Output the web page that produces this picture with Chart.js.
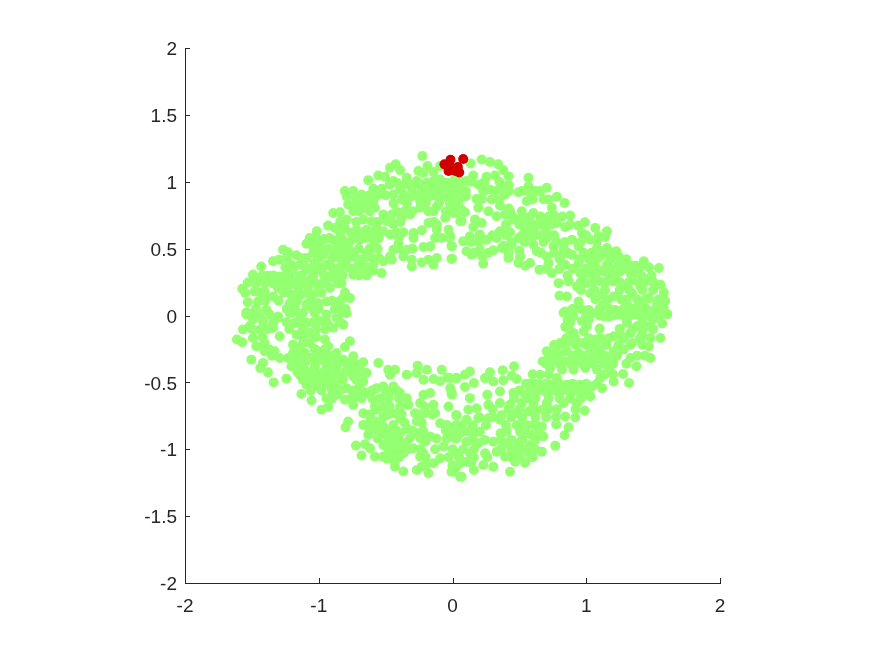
<!DOCTYPE html>
<html>
<head>
<meta charset="utf-8">
<title>scatter</title>
<script src="https://cdn.jsdelivr.net/npm/chart.js@4"></script>
<style>
  html, body { margin: 0; padding: 0; background: #fff; }
  canvas { display: block; }
</style>
</head>
<body>
<canvas id="chart" width="875" height="656"></canvas>
<script>
const xTickValues = [-2, -1, 0, 1, 2];
const yTickValues = [-2, -1.5, -1, -0.5, 0, 0.5, 1, 1.5, 2];

// values, one list per quarter of the ring
const upperLeft = [
  [-.225,1.192],[-.425,1.13],[-.467,1.105],[-.392,1.087],[-.255,1.08],[-.187,1.117],[-.142,1.072],[-.092,1.117],[-.217,1.067],
  [-.555,1.047],[-.505,1.037],[-.63,1.012],[-.442,1.005],[-.342,1.03],[-.417,.992],[-.267,1.005],[-.142,1.005],[-.192,.992],
  [-.092,1.017],[.008,1.005],[-.042,.992],[-.592,.947],[-.53,.947],[-.392,.942],[-.304,.954],[-.23,.942],[-.18,.954],[-.117,.942],
  [-.067,.954],[-.017,.942],[.033,.954],[-.805,.93],[-.742,.93],[-.68,.905],[-.792,.892],[-.667,.855],[-.592,.855],[-.442,.905],
  [-.38,.867],[-.304,.892],[-.242,.855],[-.167,.892],[-.042,.88],[.02,.817],[-.78,.83],[-.892,.767],[-.842,.772],[-.742,.78],
  [-.667,.805],[-.58,.805],[-.517,.755],[-.454,.755],[-.38,.73],[-.317,.755],[-.242,.805],[-.18,.78],[-.117,.817],[-.054,.73],
  [.008,.767],[.058,.705],[-.93,.672],[-.792,.717],[-.667,.717],[-.604,.705],[-.492,.705],[-.442,.68],[-.18,.692],[-.117,.68],
  [-.117,.642],[-.03,.642],[-1.015,.63],[-.805,.655],[-.88,.655],[-.717,.642],[-.642,.642],[-.567,.655],[-.517,.63],[-.467,.605],
  [-.367,.622],[-.292,.617],[-.23,.637],[-1.067,.58],[-.96,.572],[-1.092,.537],[-.88,.56],[-.767,.555],[-.692,.567],[-.592,.555],
  [-.292,.58],[-.13,.58],[-.08,.58],[-.017,.592],[-.217,.512],[-.167,.517],[-.404,.537],[-.004,.517],[-1.042,.517],[-.992,.53],
  [-.83,.517],[-1.267,.492],[-1.23,.472],[-1.167,.45],[-1.042,.467],[-.967,.455],[-.892,.48],[-.817,.467],[-.742,.467],[-.642,.467],
  [-.442,.492],[-.467,.442],[-.342,.492],[-.367,.442],[-.304,.417],[-.23,.397],[-.18,.417],[-.117,.43],[-.004,.425],[-1.092,.43],
  [-1.342,.405],[-1.297,.417],[-1.43,.367],[-1.204,.38],[-1.142,.38],[-1.03,.392],[-.942,.38],[-.817,.392],[-.692,.392],[-.592,.38],
  [-.517,.405],[-.454,.417],[-.304,.367],[-.142,.38],[-1.192,.33],[-1.08,.342],[-.992,.342],[-.867,.342],[-.742,.305],[-.667,.355],
  [-.592,.335],[-.53,.317],[-1.492,.305],[-1.442,.28],[-1.38,.297],[-1.292,.292],[-1.217,.28],[-1.142,.28],[-1.53,.247],[-1.404,.242],
  [-1.067,.267],[-.942,.267],[-.88,.28],[-.83,.242],[-1.572,.2],[-1.48,.18],[-1.404,.18],[-1.304,.205],[-1.23,.217],[-1.154,.205],
  [-1.08,.217],[-1.004,.217],[-.804,.172],[-.767,.13],[-.817,.13],[-.917,.205],[-1.342,.142],[-1.204,.155],[-1.13,.155],[-1.042,.155],
  [-1.53,.1],[-1.454,.105],[-1.217,.092],[-1.092,.08],[-.942,.105],[-1.004,.092],[-1.542,.022],[-1.492,.017],[-1.392,.042],[-1.304,-.008],
  [-1.217,.017],[-1.142,.005],[-1.042,.042],[-.88,.047],[-.842,.055],[-.792,.017],
  [-.47,.98],[-.36,.98],[-.31,.98],[-.24,.98],[-.1,.98],[-.01,.98],
  [-.74,.9],[-.62,.9],[-.56,.9],[-.5,.9],[-.36,.9],[-.27,.9],[-.2,.9],[-.13,.9],[-.08,.9],[0,.9],
  [-.72,.84],[-.64,.84],[-.44,.84],[-.34,.84],[-.2,.84],[-.1,.84],[-.02,.84],
  [-.7,.78],[-.62,.78],[-.42,.78],[-.36,.78],[-.3,.78],[-.14,.78],[-.05,.78],
  [-.72,.7],[-.84,.7],[-.56,.7],[-.46,.7],[-.39,.7],[-.14,.7],
  [-.84,.62],[-.76,.62],[-.68,.62],[-.6,.62],[-.55,.62],[-.42,.62],
  [-1.02,.58],[-.92,.58],[-.83,.58],[-.73,.58],[-.65,.58],[-.55,.58],[-.4,.58],
  [-1,.5],[-.93,.5],[-.86,.5],[-.78,.5],[-.7,.5],[-.62,.5],[-.56,.5],[-.3,.5],[-.4,.5],
  [-1.24,.43],[-1.13,.43],[-1,.43],[-.9,.43],[-.85,.43],[-.78,.43],[-.72,.43],[-.66,.43],[-.6,.43],[-.55,.43],
  [-1.25,.36],[-1.1,.36],[-1.04,.36],[-.97,.36],[-.9,.36],[-.84,.36],[-.78,.36],[-.72,.36],[-.64,.36],
  [-1.42,.3],[-1.34,.3],[-1.25,.3],[-1.13,.3],[-1.04,.3],[-.96,.3],[-.9,.3],[-.82,.3],[-.7,.3],[-.64,.3],
  [-1.47,.24],[-1.34,.24],[-1.27,.24],[-1.18,.24],[-1.11,.24],[-1.02,.24],[-.97,.24],[-.86,.24],
  [-1.55,.17],[-1.44,.17],[-1.26,.17],[-1.16,.17],[-1.08,.17],[-.98,.17],
  [-1.4,.11],[-1.3,.11],[-1.16,.11],[-1.06,.11],[-.9,.11],[-.84,.11],
  [-1.47,.05],[-1.24,.05],[-1.18,.05],[-1,.05],[-.8,.05]
];
const upperRight = [
  [.218,1.167],[.28,1.147],[.342,1.13],[.135,1.137],[.38,1.087],[.418,1.042],[.155,1.047],[.255,1.037],[.318,1.047],[.03,1.005],
  [.105,1.005],[.193,.98],[.568,1.03],[.568,.967],[.418,.98],[.28,.942],[.355,.942],[.493,.922],[.58,.917],[.705,.955],[.655,.93],
  [.293,.867],[.393,.905],[.555,.855],[.78,.887],[.838,.842],[.718,.867],[0,.955],[.055,.942],[.1,.892],[.18,.872],[.018,.88],
  [.193,.805],[.355,.822],[.743,.805],[.005,.805],[.268,.78],[.093,.772],[.43,.78],[.518,.78],[.605,.767],[.755,.755],[.88,.747],
  [.03,.767],[.33,.742],[.393,.755],[.068,.705],[.168,.717],[.218,.692],[.455,.717],[.568,.705],[.655,.705],[.78,.692],[.99,.697],
  [.94,.672],[.155,.662],[.693,.655],[.842,.662],[1.067,.655],[1.155,.63],[.355,.63],[.43,.622],[.543,.642],[.605,.642],[.968,.617],
  [1.092,.592],[1.142,.587],[.205,.605],[.13,.592],[.255,.567],[.33,.58],[.493,.58],[.568,.592],[.705,.58],[.893,.567],[1.03,.567],
  [.08,.555],[-.02,.58],[.38,.522],[.443,.53],[.605,.53],[.755,.517],[.83,.505],[.943,.517],[1.08,.505],[1.155,.505],[1.225,.48],
  [-.008,.522],[.105,.48],[.205,.492],[.305,.487],[.368,.505],[.5,.484],[.63,.48],[.143,.455],[.225,.442],[.505,.442],[.705,.442],
  [.805,.442],[.893,.455],[1.005,.455],[1.105,.442],[1.243,.442],[-.008,.422],[.418,.43],[.23,.387],[.493,.392],[.58,.392],[.543,.372],
  [.718,.392],[.843,.38],[.943,.392],[1.055,.38],[1.155,.38],[1.243,.38],[1.318,.38],[1.43,.405],[1.368,.372],[.65,.342],[.743,.317],
  [.955,.317],[1.03,.317],[1.13,.33],[1.255,.33],[1.468,.36],[1.543,.355],[1.33,.317],[1.488,.297],[1.418,.292],[.793,.242],[.868,.255],
  [.93,.217],[1.005,.242],[1.105,.255],[1.205,.255],[1.28,.217],[1.38,.255],[1.555,.23],[1.58,.172],[1.405,.217],[.8,.147],[.855,.142],
  [.943,.105],[1.03,.167],[1.118,.155],[1.205,.142],[1.343,.167],[1.468,.13],[1.59,.11],[1.53,.092],[.843,.03],[1.018,.042],[.905,-.008],
  [1.13,.08],[1.218,.042],[1.305,.08],[1.405,.067],[1.48,.017],[1.605,.012],[1.555,.005],[1.355,.005],[1.08,.017],[1.168,-.008],[1.255,.017],
  [.14,1],[.24,1],[.35,1],[.07,1],
  [.1,.93],[.23,.93],[.31,.93],[.42,.93],[.52,.93],[.62,.93],
  [.05,.87],[.22,.87],[.35,.87],[.6,.87],[.68,.87],
  [.06,.8],[.42,.8],
  [.45,.74],[.52,.74],[.58,.74],[.66,.74],[.72,.74],[.82,.74],
  [.6,.68],[.64,.68],[.7,.68],[.74,.68],[.5,.68],[.4,.68],[.88,.68],
  [.2,.6],[.3,.6],[.4,.6],[.52,.6],[.62,.6],[.66,.6],[.72,.6],[.76,.6],[1,.6],
  [.14,.55],[.2,.55],[.44,.55],[.54,.55],[.68,.55],[.78,.55],[.84,.55],[.96,.55],[1.08,.55],
  [.16,.47],[.27,.47],[.42,.47],[.66,.47],[.76,.47],[.86,.47],[.98,.47],[1.04,.47],[1.14,.47],[1.19,.47],
  [.8,.42],[.95,.42],[1.02,.42],[1.08,.42],[1.18,.42],[1.3,.42],
  [.7,.35],[.8,.35],[.9,.35],[1,.35],[1.08,.35],[1.18,.35],[1.3,.35],[1.4,.35],
  [.86,.3],[.98,.3],[1.07,.3],[1.17,.3],[1.22,.3],[1.38,.3],
  [.96,.25],[1.05,.25],[1.15,.25],[1.25,.25],[1.32,.25],[1.44,.25],[1.5,.25],
  [.96,.19],[1.06,.19],[1.14,.19],[1.25,.19],[1.32,.19],[1.42,.19],[1.5,.19],
  [1.07,.12],[1.16,.12],[1.26,.12],[1.3,.12],[1.38,.12],[1.44,.12],[1.54,.12],
  [.9,.05],[.96,.05],[1.1,.05],[1.17,.05],[1.28,.05],[1.36,.05],[1.45,.05],[1.52,.05],[1.58,.05],
  [1,0],[1.1,0],[1.2,0],[1.28,0],[1.4,0],[1.5,0]
];
const lowerLeft = [
  [-1.567,-.105],[-1.612,-.18],[-1.572,-.2],[-1.504,-.33],[-1.417,-.355],[-1.437,-.392],[-1.38,-.425],[-1.337,-.5],[-1.242,-.472],
  [-1.13,-.587],[-1.054,-.635],[-.98,-.705],[-.93,-.685],[-.78,-.793],[-.8,-.835],[-.722,-.972],[-.654,-.962],[-.617,-.992],[-.68,-1.047],
  [-.58,-1.055],[-.517,-1.055],[-.43,-1.13],[-.367,-1.167],[-.267,-1.155],[-.18,-1.18],[-.23,-1.13],[.008,-1.168],[.058,-1.205],
  [-.554,-.355],[-.48,-.405],[-.43,-.405],[-.467,-.443],[-.642,-.43],[-.667,-.35],[-.742,-.305],[-.767,-.193],[-.804,-.235],[-.954,-.18],
  [-.93,-.23],[-.26,-.375],[-.342,-.443],[-.267,-.43],[-.192,-.405],[-.217,-.48],[-.142,-.475],[-.08,-.405],[-.092,-.492],[-.037,-.463],
  [.028,-.468],[-.017,-.542],[-.004,-.592],[-.03,-.68],[.028,-.743],
  [-1.542,.008],[-1.442,.008],[-1.367,.008],[-1.492,-.03],[-1.417,-.042],[-1.304,-.018],[-1.517,-.08],[-1.442,-.105],[-1.342,-.092],
  [-1.492,-.168],[-1.467,-.23],[-1.404,-.205],[-1.367,-.255],[-1.292,-.155],[-1.404,-.268],[-1.33,-.268],[-1.292,-.318],[-1.204,.02],
  [-1.117,.02],[-1.03,.02],[-.942,.008],[-.817,.02],[-.867,-.018],[-1.18,-.055],[-1.092,-.055],[-.992,-.042],[-.892,-.092],[-.954,-.105],
  [-.817,-.068],[-1.167,-.143],[-1.067,-.13],[-1.192,-.218],[-1.117,-.205],[-1.067,-.205],[-.992,-.268],[-1.192,-.28],[-1.104,-.28],
  [-1.23,-.318],[-1.154,-.33],[-1.067,-.318],[-.992,-.33],[-.917,-.305],[-.867,-.28],[-.817,-.33],[-1.204,-.38],[-1.117,-.38],[-1.03,-.38],
  [-.942,-.38],[-.867,-.38],[-.78,-.38],[-.717,-.368],[-1.142,-.443],[-1.067,-.443],[-.992,-.443],[-.917,-.443],[-.842,-.443],[-.742,-.455],
  [-.667,-.492],[-1.092,-.518],[-1.017,-.518],[-.942,-.518],[-.867,-.518],[-.792,-.543],[-.704,-.543],[-.942,-.618],[-.867,-.593],[-.804,-.63],
  [-.742,-.668],[-.717,-.605],[-.642,-.58],[-.567,-.543],[-.517,-.53],[-.442,-.53],[-.667,-.73],[-.667,-.818],[-.617,-.755],[-.542,-.618],
  [-.517,-.68],[-.567,-.705],[-.467,-.58],[-.392,-.58],[-.342,-.618],[-.33,-.668],[-.392,-.68],[-.442,-.73],[-.517,-.755],[-.579,-.793],
  [-.63,-.893],[-.592,-.843],[-.517,-.83],[-.442,-.818],[-.392,-.768],[-.28,-.73],[-.267,-.793],[-.342,-.843],[-.217,-.593],[-.167,-.58],
  [-.242,-.655],[-.142,-.668],[-.204,-.73],[-.13,-.73],[-.092,-.805],[-.042,-.818],[.033,-.818],[.008,-.88],[-.042,-.918],[-.392,-.88],
  [-.467,-.893],[-.542,-.893],[-.267,-.88],[-.167,-.905],[-.204,-.943],[-.517,-.968],[-.442,-.955],[-.367,-.955],[-.292,-.993],[-.217,-1.03],
  [-.067,-.98],[.033,-1.03],[-.092,-1.068],[-.142,-1.105],[-.442,-1.03],[-.367,-1.03],[-.242,-1.055],[-.492,-1.068],[-.43,-1.093],
  [-1.34,-.05],[-1.24,-.05],[-1.13,-.05],[-1.04,-.05],[-.94,-.05],[-.84,-.05],
  [-1.5,-.1],[-1.38,-.1],[-1.22,-.1],[-1.12,-.1],[-1.02,-.1],
  [-1.42,-.16],[-1.12,-.16],[-1.02,-.16],
  [-1.15,-.25],[-1.03,-.25],[-.95,-.25],
  [-1.35,-.3],[-1.12,-.3],[-1.03,-.3],[-.95,-.3],[-.89,-.3],
  [-1.17,-.35],[-1.1,-.35],[-1.02,-.35],[-.95,-.35],[-.89,-.35],[-.84,-.35],[-.76,-.35],
  [-1.16,-.42],[-1.09,-.42],[-1.03,-.42],[-.96,-.42],[-.88,-.42],[-.8,-.42],[-.74,-.42],[-.68,-.42],
  [-1.12,-.48],[-1.04,-.48],[-.97,-.48],[-.9,-.48],[-.82,-.48],[-.72,-.48],
  [-1.06,-.56],[-.98,-.56],[-.9,-.56],[-.84,-.56],[-.75,-.56],[-.68,-.56],[-.6,-.56],[-.5,-.56],[-.42,-.56],
  [-.9,-.62],[-.76,-.62],[-.68,-.62],[-.6,-.62],[-.48,-.62],[-.4,-.62],
  [-.58,-.68],[-.47,-.68],[-.21,-.68],
  [-.62,-.74],[-.48,-.74],[-.38,-.74],[-.24,-.74],[-.15,-.74],
  [-.62,-.8],[-.54,-.8],[-.36,-.8],[-.23,-.8],
  [-.62,-.86],[-.56,-.86],[-.48,-.86],[-.42,-.86],[-.3,-.86],[-.22,-.86],[-.05,-.86],[.05,-.86],
  [-.56,-.92],[-.48,-.92],[-.4,-.92],[-.32,-.92],[-.24,-.92],[-.12,-.92],[.03,-.92],
  [-.48,-1],[-.4,-1],[-.33,-1],[-.24,-1],[-.13,-1],[0,-1],
  [-.4,-1.06],[-.2,-1.06],[-.03,-1.06],[.05,-1.06],
  [-.2,-1.12],[0,-1.12]
];
const lowerRight = [
  [.83,.02],[.893,.02],[1.043,.015],[1.13,-.005],[1.23,.008],[1.33,.008],[1.455,.008],[1.605,.008],[1.568,-.06],[.843,-.085],[.905,-.13],
  [.88,-.05],[.968,-.043],[1.005,-.08],[.98,-.118],[1.1,-.098],[1.305,-.055],[1.38,-.08],[1.455,-.08],[1.33,-.13],[1.418,-.143],[1.555,-.168],
  [1.48,-.168],[1.343,-.205],[1.255,-.143],[1.205,-.155],[1.13,-.18],[1.068,-.18],[.975,-.205],[.88,-.193],[.805,-.205],[1.468,-.23],
  [1.48,-.318],[1.33,-.318],[1.375,-.38],[1.28,-.255],[1.205,-.268],[1.105,-.255],[1.03,-.255],[.943,-.28],[.855,-.268],[.78,-.268],[.705,-.268],
  [.675,-.343],[.755,-.33],[.843,-.343],[.93,-.343],[1.018,-.33],[1.105,-.33],[1.193,-.33],[.73,-.393],[.818,-.405],[.905,-.405],[.993,-.393],
  [1.08,-.405],[1.168,-.393],[1.275,-.438],[1.32,-.505],[.655,-.443],[.78,-.468],[1.105,-.468],[1.205,-.493],[1.118,-.543],[.58,-.51],
  [.655,-.518],[.743,-.518],[.855,-.518],[.955,-.518],[1.043,-.53],[1.03,-.605],[.968,-.58],[.88,-.58],[.78,-.568],[.693,-.568],[.605,-.58],
  [.543,-.593],[.455,-.58],[.355,-.568],[.26,-.593],[.13,-.618],[.268,-.668],[.355,-.655],[.43,-.668],[.518,-.655],[.605,-.668],[.705,-.655],
  [.83,-.655],[.93,-.655],[.988,-.71],[.918,-.763],[.843,-.755],[.775,-.755],[.775,-.813],[.868,-.835],[.838,-.895],[.768,-.973],[.668,-.705],
  [.568,-.718],[.468,-.73],[.368,-.743],[.268,-.768],[.18,-.693],[.118,-.705],[.03,-.75],[.193,-.768],[.105,-.78],[.518,-.805],[.605,-.818],
  [.668,-.83],[.355,-.78],[.018,-.83],[.118,-.868],[.205,-.868],[.405,-.868],[.505,-.868],[.593,-.893],[.68,-.905],[.018,-.918],
  [.105,-.943],[.193,-.955],[.305,-.943],[.405,-.955],[.493,-.955],[.58,-.968],[.668,-1.018],[.043,-1.043],[.13,-1.03],[.243,-1.03],[.33,-1.018],
  [.393,-1.055],[.493,-1.018],[.568,-1.03],[.543,-1.1],[.468,-1.093],[.105,-1.093],[.23,-1.118],[.305,-1.13],[.16,-1.155],[.03,-1.13],[-.008,-1.168],
  [.068,-1.205],[.43,-1.168],[.13,-.418],[.093,-.443],[.16,-.505],[.093,-.535],[.03,-.468],[-.02,-.468],[-.008,-.58],[.28,-.425],[.243,-.468],
  [.305,-.493],[.375,-.41],[.46,-.38],[.443,-.45],[.48,-.475],[.38,-.485],
  [.86,-.03],[1.02,-.03],[1.3,-.03],[1.42,-.03],[1.5,-.03],
  [1.35,-.1],[1.42,-.1],[1.5,-.1],[1.25,-.1],[.87,-.1],
  [.85,-.17],[.92,-.17],[1.02,-.17],[1.1,-.17],[1.17,-.17],[1.28,-.17],[1.4,-.17],
  [.76,-.22],[.84,-.22],[.92,-.22],[1,-.22],[1.07,-.22],[1.15,-.22],[1.24,-.22],[1.33,-.22],[1.42,-.22],
  [.72,-.3],[.8,-.3],[.9,-.3],[.98,-.3],[1.06,-.3],[1.14,-.3],[1.23,-.3],[1.38,-.3],[1.44,-.3],
  [.7,-.36],[.8,-.36],[.88,-.36],[.97,-.36],[1.05,-.36],[1.13,-.36],[1.2,-.36],[1.3,-.36],
  [.6,-.44],[.72,-.44],[1.14,-.44],[1.2,-.44],
  [.55,-.51],[.62,-.51],[.7,-.51],[.8,-.51],[.9,-.51],[1,-.51],[1.08,-.51],
  [.5,-.56],[.58,-.56],[.64,-.56],[.74,-.56],[.82,-.56],[.92,-.56],[1,-.56],
  [.46,-.62],[.56,-.62],[.62,-.62],[.72,-.62],[.8,-.62],[.88,-.62],[.96,-.62],
  [.3,-.7],[.42,-.7],[.5,-.7],[.6,-.7],[.72,-.7],[.78,-.7],[.92,-.7],
  [.2,-.76],[.3,-.76],[.44,-.76],[.52,-.76],[.62,-.76],[.7,-.76],
  [.07,-.82],[.15,-.82],[.25,-.82],[.4,-.82],[.48,-.82],[.56,-.82],[.62,-.82],
  [.06,-.88],[.16,-.88],[.36,-.88],[.55,-.88],[.64,-.88],
  [.15,-.93],[.24,-.93],[.36,-.93],[.44,-.93],[.52,-.93],[.62,-.93],
  [.08,-1],[.16,-1],[.36,-1],[.44,-1],[.54,-1],[.62,-1],
  [.16,-1.06],[.26,-1.06],[.44,-1.06],[.5,-1.06],[.6,-1.06],
  [.06,-1.1],[.14,-1.1]
];
const redPoints = [
  [-.06,1.13],[-.015,1.165],[.08,1.17],[-.015,1.11],[.04,1.11],[-.03,1.08],[.02,1.08],[.05,1.07]
];
const greenPoints = upperLeft.concat(upperRight, lowerLeft, lowerRight);

// ticks point inward, chart.js only draws them outward
const inwardTicks = {
  id: 'inwardTicks',
  afterDraw(chart) {
    const { ctx, chartArea, scales } = chart;
    ctx.save();
    ctx.strokeStyle = '#262626';
    ctx.lineWidth = 1;
    ctx.beginPath();
    xTickValues.forEach(v => {
      const px = Math.round(scales.x.getPixelForValue(v)) + 0.5;
      ctx.moveTo(px, chartArea.bottom);
      ctx.lineTo(px, chartArea.bottom - 5);
    });
    yTickValues.forEach(v => {
      const py = Math.round(scales.y.getPixelForValue(v)) + 0.5;
      ctx.moveTo(chartArea.left, py);
      ctx.lineTo(chartArea.left + 5, py);
    });
    ctx.stroke();
    ctx.restore();
  }
};

function axis(tickValues, fit, padding, labelOffset) {
  return {
    type: 'linear',
    min: -2,
    max: 2,
    afterBuildTicks(scale) { scale.ticks = tickValues.map(v => ({ value: v })); },
    afterFit: fit,
    grid: { drawOnChartArea: false, drawTicks: false },
    border: { color: '#262626', width: 1 },
    ticks: {
      color: '#262626',
      font: { family: '"Liberation Sans", Arial, sans-serif', size: 19 },
      padding: padding,
      labelOffset: labelOffset,
      maxRotation: 0,
      autoSkip: false,
      callback: v => String(v)
    }
  };
}

new Chart(document.getElementById('chart'), {
  type: 'scatter',
  data: {
    datasets: [
      { data: redPoints.map(p => ({ x: p[0], y: p[1] })), backgroundColor: '#d00000', pointRadius: 5, pointBorderWidth: 0, order: 1 },
      { data: greenPoints.map(p => ({ x: p[0], y: p[1] })), backgroundColor: '#94ff70', pointRadius: 5, pointBorderWidth: 0, order: 2 }
    ]
  },
  options: {
    responsive: false,
    animation: false,
    layout: { padding: { top: 48, right: 155, bottom: 0, left: 0 } },
    plugins: { legend: { display: false }, tooltip: { enabled: false } },
    scales: {
      x: axis(xTickValues, s => { s.height = 73; }, 12, 0),
      y: axis(yTickValues, s => { s.width = 185; }, 8, 2)
    }
  },
  plugins: [inwardTicks]
});
</script>
</body>
</html>
